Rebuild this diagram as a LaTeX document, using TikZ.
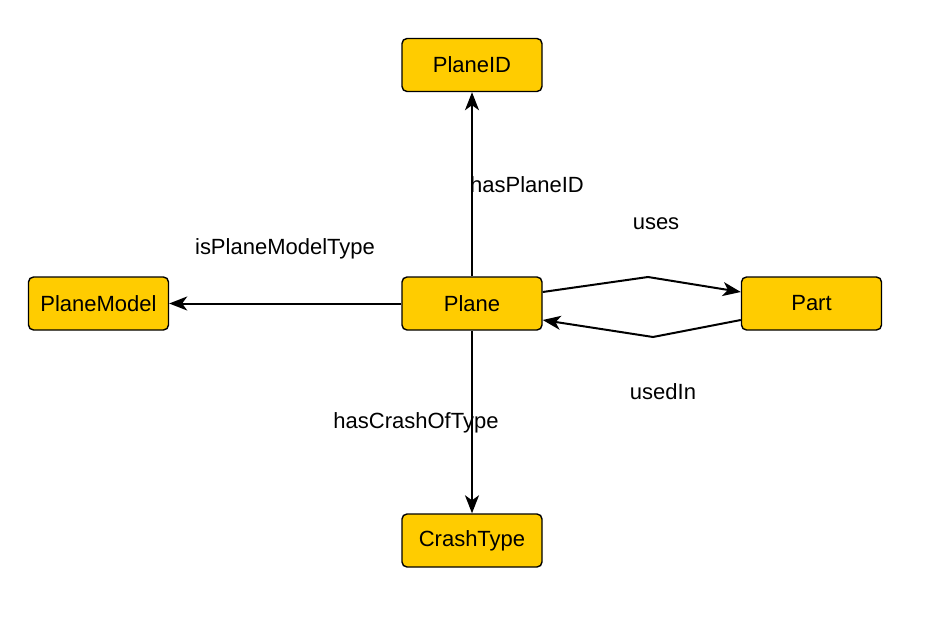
\documentclass[tikz,border=0pt]{standalone}
\usepackage{fontspec}
\setmainfont{Liberation Sans}
\usetikzlibrary{arrows.meta}
\definecolor{boxfill}{HTML}{FFCC00}
\tikzset{
  ent/.style={draw=black, line width=1.4pt, fill=boxfill, rounded corners=5pt,
    minimum width=140pt, minimum height=53pt, inner sep=0pt,
    font=\fontsize{22}{26}\selectfont},
  rel/.style={draw=black, line width=2pt, -{Stealth[length=18pt,width=14pt,inset=5pt]}},
  lbl/.style={font=\fontsize{22}{26}\selectfont, inner sep=0pt}
}
\begin{document}
\begin{tikzpicture}[x=1pt,y=-1pt]
\useasboundingbox (0,0) rectangle (946,623);
\node[ent] (planeid) at (472,65) {PlaneID};
\node[ent] (planemodel) at (98.5,303.5) {PlaneModel};
\node[ent] (plane) at (472,303.5) {Plane};
\node[ent] (part) at (811.5,303.5) {Part};
\node[ent] (crashtype) at (472,540.5) {CrashType};
\coordinate (u1) at (648,277);
\coordinate (u2) at (653,337);
\draw[rel] (plane.north) -- (planeid.south);
\draw[rel] (plane.west) -- (planemodel.east);
\draw[rel] (plane.south) -- (crashtype.north);
\draw[rel] (plane.east |- 0,292) -- (u1) -- (part.west |- 0,292);
\draw[rel] (part.west |- 0,320) -- (u2) -- (plane.east |- 0,320);
\node[lbl] (l1) at (527,185) {hasPlaneID};
\node[lbl] (l2) at (285,249) {isPlaneModelType};
\node[lbl] (l3) at (656,224) {uses};
\node[lbl] (l4) at (663,392) {usedIn};
\node[lbl] (l5) at (416,423) {hasCrashOfType};
\end{tikzpicture}
\end{document}
